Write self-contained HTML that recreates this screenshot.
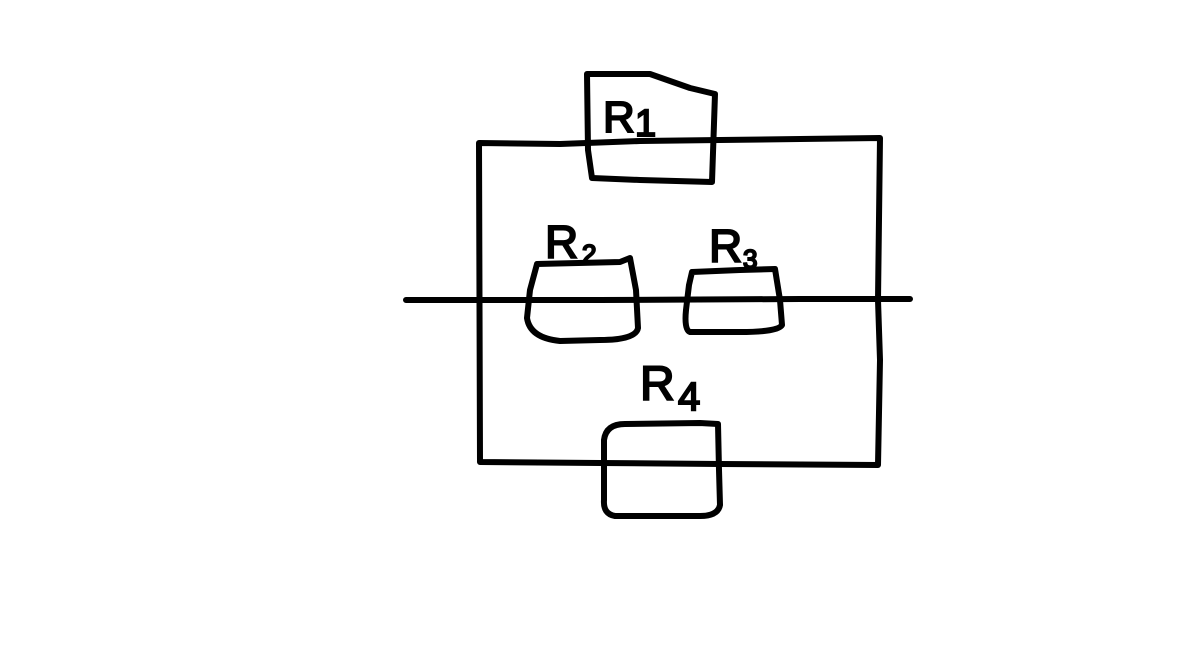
<!DOCTYPE html>
<html><head><style>html,body{margin:0;padding:0;background:#fff;}svg{display:block}</style></head>
<body>
<svg width="1200" height="666" viewBox="0 0 1200 666" xmlns="http://www.w3.org/2000/svg">
<g fill="none" stroke="#000" stroke-width="6" stroke-linecap="round" stroke-linejoin="round">
<path d="M480,462 L479,143 L560,144 L640,141 L720,140 L800,139 L880,138 L878,300 L880,360 L878,465 L720,464 L600,463 L480,462"/>
<path d="M406,300 L600,300 L800,299 L910,299"/>
<path d="M588,150 L587,74 L650,74 L690,88 L715,94 L712,182 L640,180 L592,178 L588,150"/>
<path d="M537,264 L620,262 L630,258 L636,290 L638,328 Q636,340 600,340 L560,341 Q530,338 527,318 L530,290 Z"/>
<path d="M692,272 L740,270 L775,269 L780,300 L782,325 Q778,332 740,332 L690,332 Q684,330 686,310 L689,285 Z"/>
<path d="M604,440 Q606,424 625,424 L700,423 L718,424 L719,470 L720,505 Q718,516 700,516 L615,516 Q603,514 604,500 Z"/>
</g>
<g font-family="Liberation Sans, sans-serif" fill="#000" stroke="#000" stroke-width="2">
<text x="603" y="132" font-size="44">R</text>
<text x="635" y="136" font-size="38">1</text>
<text x="545" y="258" font-size="46">R</text>
<text x="582" y="263" font-size="26">2</text>
<text x="709" y="262" font-size="46">R</text>
<text x="743" y="268" font-size="26">3</text>
<text x="640" y="400" font-size="48">R</text>
<text x="678" y="410" font-size="40">4</text>
</g>
</svg>
</body></html>
